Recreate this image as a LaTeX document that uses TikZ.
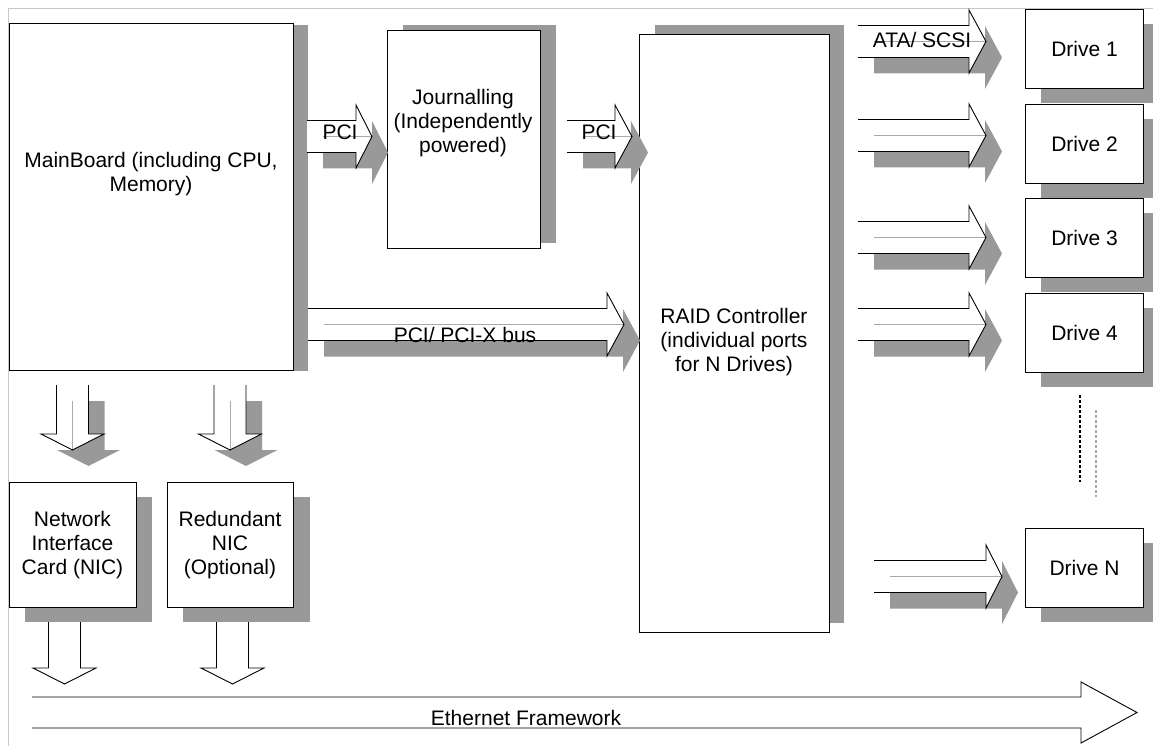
\documentclass[tikz,border=0pt]{standalone}
\usepackage{fontspec}
\setmainfont{Liberation Sans}
\definecolor{shadowgray}{RGB}{153,153,153}
\definecolor{framegray}{RGB}{200,200,200}
\definecolor{centergray}{RGB}{170,170,170}
\tikzset{
  box/.style={draw=black, line width=1pt, fill=white, inner sep=0pt},
  shadowfill/.style={fill=shadowgray, draw=none},
  barrow/.style={draw=black, line width=0.9pt, line join=miter},
  centerline/.style={draw=centergray, line width=0.8pt},
  lbl/.style={font=\fontsize{21}{24}\selectfont, align=center, inner sep=0pt},
}
% right block arrow: #1 shadow flag, #2 tail x, #3 head base x, #4 tip x, #5 centre y
\newcommand{\rblockarrow}[5][1]{%
  \ifnum#1=1
  \fill[shadowfill] ({#2+16},{#5}) -- ({#3+16},{#5}) -- ({#3+16},{#5+16-31.5}) -- ({#4+16},{#5+16})
     -- ({#3+16},{#5+16+31.5}) -- ({#3+16},{#5+32}) -- ({#2+16},{#5+32}) -- cycle;
  \fi
  \fill[white] ({#2},{#5-16}) -- ({#3},{#5-16}) -- ({#3},{#5-31.5}) -- ({#4},{#5})
     -- ({#3},{#5+31.5}) -- ({#3},{#5+16}) -- ({#2},{#5+16}) -- cycle;
  \ifnum#1=1
  \draw[centerline] ({#2+16},{#5}) -- ({#4},{#5});
  \fi
  \draw[barrow] ({#2},{#5-16}) -- ({#3},{#5-16}) -- ({#3},{#5-31.5}) -- ({#4},{#5})
     -- ({#3},{#5+31.5}) -- ({#3},{#5+16}) -- ({#2},{#5+16});
}
% down block arrow: #1 shadow flag, #2 centre x, #3 tail y, #4 head base y, #5 tip y
\newcommand{\dblockarrow}[5][1]{%
  \ifnum#1=1
  \fill[shadowfill] ({#2},{#3+16}) -- ({#2},{#4+16}) -- ({#2+16-31.5},{#4+16}) -- ({#2+16},{#5+16})
     -- ({#2+16+31.5},{#4+16}) -- ({#2+32},{#4+16}) -- ({#2+32},{#3+16}) -- cycle;
  \fi
  \fill[white] ({#2-16},{#3}) -- ({#2-16},{#4}) -- ({#2-31.5},{#4}) -- ({#2},{#5})
     -- ({#2+31.5},{#4}) -- ({#2+16},{#4}) -- ({#2+16},{#3}) -- cycle;
  \ifnum#1=1
  \draw[centerline] ({#2},{#3+16}) -- ({#2},{#5});
  \fi
  \draw[barrow] ({#2-16},{#3}) -- ({#2-16},{#4}) -- ({#2-31.5},{#4}) -- ({#2},{#5})
     -- ({#2+31.5},{#4}) -- ({#2+16},{#4}) -- ({#2+16},{#3});
}
\begin{document}
\begin{tikzpicture}[x=1pt,y=-1pt]
\useasboundingbox (0,0) rectangle (1153,746);
\clip (0,0) rectangle (1153,746);
% frame
\draw[framegray, line width=1.2pt] (8.5,746) -- (8.5,8.5) -- (1153,8.5);

% box shadows
\fill[shadowfill] (25,25) rectangle (308,371);
\fill[shadowfill] (403,25) rectangle (556,243);
\fill[shadowfill] (655,25) rectangle (844,623);
\foreach \yt in {9,104,198,293,528} \fill[shadowfill] (1041,\yt+15) rectangle (1159,\yt+94);
\fill[shadowfill] (25,497) rectangle (152,622);
\fill[shadowfill] (183,497) rectangle (310,622);

% boxes
\node[box, anchor=north west, minimum width=284pt, minimum height=347pt] (mb) at (9,23) {};
\node[box, anchor=north west, minimum width=153pt, minimum height=218pt] (jr) at (387,30) {};
\node[box, anchor=north west, minimum width=190pt, minimum height=598pt] (raid) at (639,34) {};
\node[box, anchor=north west, minimum width=118pt, minimum height=79pt] (d1) at (1025,9) {};
\node[box, anchor=north west, minimum width=118pt, minimum height=79pt] (d2) at (1025,104) {};
\node[box, anchor=north west, minimum width=118pt, minimum height=79pt] (d3) at (1025,198) {};
\node[box, anchor=north west, minimum width=118pt, minimum height=79pt] (d4) at (1025,293) {};
\node[box, anchor=north west, minimum width=118pt, minimum height=79pt] (dn) at (1025,528) {};
\node[box, anchor=north west, minimum width=127pt, minimum height=125pt] (nic) at (9,482) {};
\node[box, anchor=north west, minimum width=126pt, minimum height=125pt] (rnic) at (167,482) {};

% labels in boxes
\node[lbl] at (151,174) {MainBoard (including CPU,\\Memory)};
\node[lbl] at (463,123) {Journalling\\(Independently\\powered)};
\node[lbl] at (734,342) {RAID Controller\\(individual ports\\for N Drives)};
\node[lbl] at (72.5,545) {Network\\Interface\\Card (NIC)};
\node[lbl] at (230,545) {Redundant\\NIC\\(Optional)};
\node[lbl] at (d1.center) {Drive 1};
\node[lbl] at (d2.center) {Drive 2};
\node[lbl] at (d3.center) {Drive 3};
\node[lbl] at (d4.center) {Drive 4};
\node[lbl] at (dn.center) {Drive N};

% block arrows
\rblockarrow{307}{356}{372}{136.5}
\rblockarrow{567}{615}{632}{136.5}
\rblockarrow{308}{607}{624}{324.5}
\rblockarrow{858}{969}{986}{41.5}
\rblockarrow{858}{969}{986}{135.5}
\rblockarrow{858}{969}{986}{237.5}
\rblockarrow{858}{969}{986}{324.5}
\rblockarrow{874}{986}{1002}{576.5}
\dblockarrow{72.5}{385}{434}{450}
\dblockarrow{230}{385}{434}{450}
\dblockarrow[0]{64.5}{622}{668}{684}
\dblockarrow[0]{232.5}{622}{668}{684}

% arrow labels
\node[lbl, anchor=base] at (340,140) {PCI};
\node[lbl, anchor=base] at (599,140) {PCI};
\node[lbl, anchor=base] at (465,342) {PCI/ PCI-X bus};
\node[lbl, anchor=base] at (922,48) {ATA/ SCSI};

% dotted continuation
\draw[black, line width=1.3pt, dash pattern=on 2.5pt off 2.5pt] (1080,395) -- (1080,482);
\draw[centergray, line width=1.3pt, dash pattern=on 2.5pt off 2.5pt] (1096,410) -- (1096,497);

% Ethernet framework arrow
\fill[white] (32,697) -- (1081,697) -- (1081,682) -- (1137,712.5) -- (1081,743) -- (1081,728) -- (32,728) -- cycle;
\draw[barrow] (32,697) -- (1081,697) -- (1081,682) -- (1137,712.5) -- (1081,743) -- (1081,728) -- (32,728);
\node[lbl] (eth) at (526,718) {Ethernet Framework};
\end{tikzpicture}
\end{document}
